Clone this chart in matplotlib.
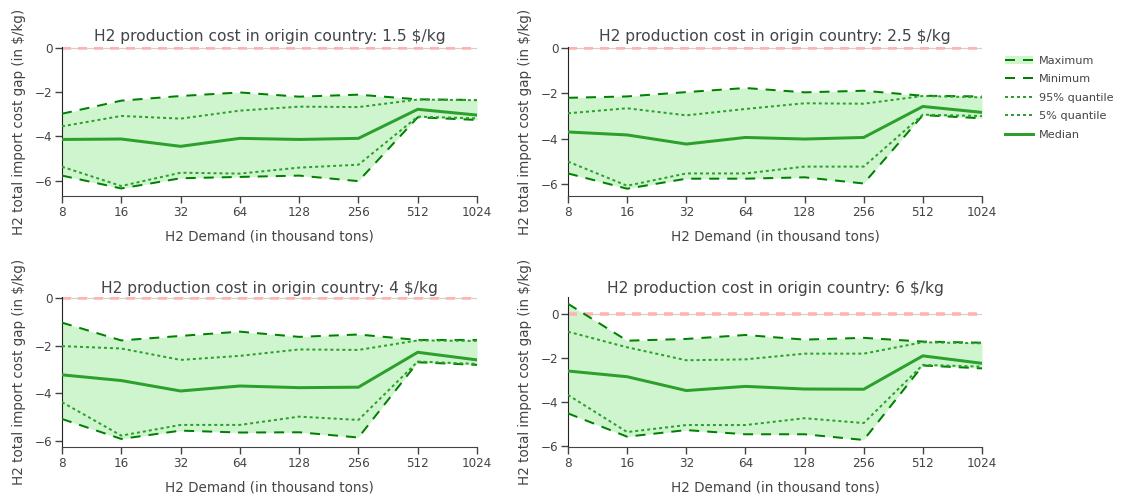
import matplotlib
matplotlib.use("Agg")
import matplotlib.pyplot as plt
from matplotlib.patches import Patch

plt.rcParams["font.family"] = ["DejaVu Sans"]
plt.rcParams["lines.scale_dashes"] = False
plt.rcParams["axes.unicode_minus"] = True

demand = [8, 16, 32, 64, 128, 256, 512, 1024]
tick_labels = ["8", "16", "32", "64", "128", "256", "512", "1024"]

prod_costs = ["1.5", "2.5", "4", "6"]

maximum = {
    "1.5": [-2.98, -2.39, -2.18, -2.02, -2.21, -2.12, -2.33, -2.36],
    "2.5": [-2.20, -2.14, -1.95, -1.77, -1.96, -1.89, -2.11, -2.14],
    "4":   [-1.03, -1.78, -1.59, -1.41, -1.63, -1.53, -1.76, -1.76],
    "6":   [0.46, -1.22, -1.14, -0.96, -1.17, -1.09, -1.26, -1.31],
}
minimum = {
    "1.5": [-5.77, -6.35, -5.89, -5.83, -5.77, -6.02, -3.14, -3.26],
    "2.5": [-5.52, -6.19, -5.75, -5.75, -5.69, -5.96, -2.96, -3.10],
    "4":   [-5.09, -5.93, -5.58, -5.66, -5.65, -5.87, -2.70, -2.81],
    "6":   [-4.53, -5.59, -5.29, -5.48, -5.48, -5.74, -2.35, -2.48],
}
q95 = {
    "1.5": [-3.55, -3.08, -3.20, -2.84, -2.66, -2.68, -2.34, -2.37],
    "2.5": [-2.88, -2.66, -2.97, -2.69, -2.44, -2.46, -2.12, -2.18],
    "4":   [-2.02, -2.12, -2.60, -2.43, -2.16, -2.18, -1.78, -1.80],
    "6":   [-0.81, -1.52, -2.11, -2.07, -1.81, -1.81, -1.29, -1.34],
}
q05 = {
    "1.5": [-5.37, -6.24, -5.64, -5.68, -5.41, -5.28, -3.11, -3.19],
    "2.5": [-5.00, -6.06, -5.52, -5.52, -5.22, -5.22, -2.94, -3.00],
    "4":   [-4.38, -5.79, -5.34, -5.34, -4.99, -5.13, -2.67, -2.77],
    "6":   [-3.69, -5.38, -5.06, -5.06, -4.75, -4.97, -2.32, -2.40],
}
median = {
    "1.5": [-4.14, -4.12, -4.45, -4.09, -4.14, -4.09, -2.78, -3.04],
    "2.5": [-3.70, -3.83, -4.23, -3.94, -4.01, -3.94, -2.58, -2.84],
    "4":   [-3.23, -3.47, -3.91, -3.70, -3.77, -3.75, -2.28, -2.60],
    "6":   [-2.60, -2.86, -3.49, -3.30, -3.42, -3.43, -1.91, -2.25],
}
y_ranges = {
    "1.5": (-6.69, 0.03),
    "2.5": (-6.51, 0.03),
    "4":   (-6.27, 0.05),
    "6":   (-6.06, 0.77),
}

W, H = 1122, 500
PX = 0.72  # points per pixel at dpi 100

DARK = "#008000"
MID = "#2ca02c"
FILL = "#cff5cf"
AXC = "#444444"

fig = plt.figure(figsize=(W / 100, H / 100), dpi=100)

# panel boxes in pixels: left, right, top, bottom
boxes = {
    "1.5": (62, 477, 47, 196),
    "2.5": (568, 982, 47, 196),
    "4":   (62, 477, 297, 447),
    "6":   (568, 982, 297, 447),
}
ylabel_x = {"1.5": 26, "2.5": 532, "4": 26, "6": 532}
title_y = {"1.5": 37, "2.5": 37, "4": 288, "6": 288}

handles = None
for pc in prod_costs:
    l, r, t, b = boxes[pc]
    ax = fig.add_axes([l / W, 1 - b / H, (r - l) / W, (b - t) / H])
    ax.set_xscale("log", base=2)
    ax.set_xlim(demand[0], demand[-1])
    ax.set_ylim(*y_ranges[pc])

    # zero reference
    ax.axhline(0, color="#d0d0d0", lw=1.2 * PX, zorder=1)
    zl = ax.axhline(0, color="#ffb3b3", lw=3.5 * PX, zorder=2)
    zl.set_dashes((9 * PX, 7 * PX))

    ax.fill_between(demand, minimum[pc], maximum[pc], color=FILL, lw=0, zorder=1.5)
    lmax, = ax.plot(demand, maximum[pc], color=DARK, lw=2 * PX, zorder=3)
    lmax.set_dashes((10 * PX, 8 * PX))
    lmin, = ax.plot(demand, minimum[pc], color=DARK, lw=2 * PX, zorder=3)
    lmin.set_dashes((10 * PX, 8 * PX))
    l95, = ax.plot(demand, q95[pc], color=MID, lw=2 * PX, zorder=3)
    l95.set_dashes((3 * PX, 3 * PX))
    l05, = ax.plot(demand, q05[pc], color=MID, lw=2 * PX, zorder=3)
    l05.set_dashes((3 * PX, 3 * PX))
    lmed, = ax.plot(demand, median[pc], color=MID, lw=3 * PX, zorder=3,
                    solid_joinstyle="miter")

    if handles is None:
        handles = [(Patch(facecolor=FILL, edgecolor="none"), lmax), lmin, l95, l05, lmed]

    ax.set_xticks(demand)
    ax.set_xticklabels(tick_labels)
    ax.minorticks_off()
    ax.set_yticks([v for v in [-6, -4, -2, 0] if y_ranges[pc][0] <= v <= y_ranges[pc][1]])
    ax.tick_params(axis="both", direction="out", length=5, width=1, color=AXC,
                   labelcolor=AXC, labelsize=12 * PX, pad=2)
    for s in ("top", "right"):
        ax.spines[s].set_visible(False)
    ax.spines["left"].set_color("#222222")
    ax.spines["bottom"].set_color(AXC)
    ax.patch.set_alpha(0)

    ax.set_xlabel("H2 Demand (in thousand tons)", fontsize=13.5 * PX, color=AXC, labelpad=8)
    ax.set_ylabel("H2 total import cost gap (in $/kg)", fontsize=13.5 * PX, color=AXC)
    ax.yaxis.set_label_coords((ylabel_x[pc] - l) / (r - l), 0.5)

    fig.text((l + r) / 2 / W, 1 - title_y[pc] / H,
             f"H2 production cost in origin country: {pc} $/kg",
             ha="center", va="center", fontsize=15.5 * PX, color=AXC)

fig.legend(handles, ["Maximum", "Minimum", "95% quantile", "5% quantile", "Median"],
           loc="upper left", bbox_to_anchor=(1005 / W, 1 - 56 / H), frameon=False,
           fontsize=11.2 * PX, handlelength=2.5, handletextpad=0.55, labelspacing=0.75,
           labelcolor=AXC, borderaxespad=0, borderpad=0)

fig.savefig("out.png", dpi=100)
